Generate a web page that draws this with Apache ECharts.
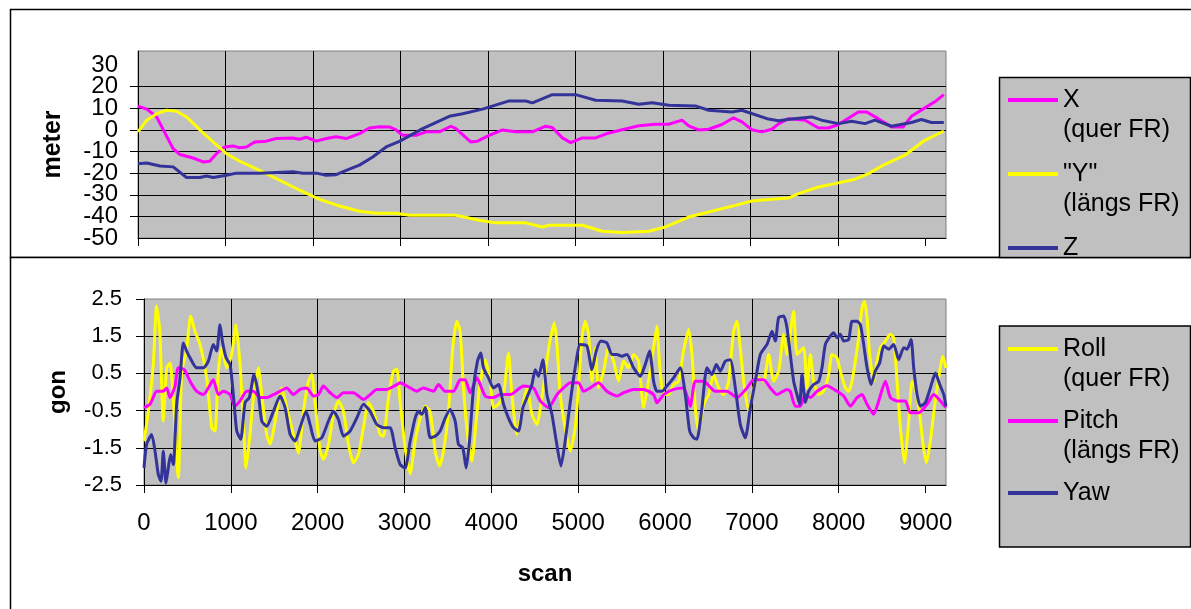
<!DOCTYPE html>
<html>
<head>
<meta charset="utf-8">
<script src="https://cdn.jsdelivr.net/npm/echarts@6/dist/echarts.min.js"></script>
<style>
  html, body { margin: 0; padding: 0; background: #fff; }
  #main { width: 1191px; height: 609px; }
</style>
</head>
<body>
<div id="main"></div>
<script>
// --- position (meter) ---
var xScan = [0,100,213,290,400,480,630,745,820,897,990,1087,1163,1240,1334,1467,1580,1771,1847,1923,2038,2152,2265,2380,2531,2645,2759,2873,2950,3025,3178,3292,3443,3577,3634,3805,3880,4014,4166,4318,4508,4660,4736,4850,4945,5078,5230,5382,5534,5724,5914,6066,6218,6294,6408,6522,6674,6807,6902,7016,7130,7244,7320,7434,7625,7777,7891,8005,8233,8329,8460,8612,8746,8840,8993,9107,9210];
var xVal = [11,9.6,6,0,-8.6,-11.4,-13,-14.8,-14.5,-11,-7.9,-7.4,-8.3,-7.9,-5.6,-5.2,-4,-3.7,-4.3,-3.4,-5.2,-4,-3.2,-4,-1.7,0.9,1.5,1.4,0,-2.5,-2.5,-0.9,-0.9,1.7,0.6,-5.6,-5.2,-2.5,0,-0.9,-0.9,1.7,1.1,-3.7,-5.9,-3.7,-3.7,-1.4,0.1,1.9,2.6,2.6,4.5,1.9,0,0.3,2.5,5.6,3.7,0.1,-0.9,0.3,2.8,5.2,4.5,0.9,0.9,2.5,8.3,8.3,5.2,1.4,1.4,6.3,10.2,13,16.3];

var yScan = [0,100,213,327,441,555,707,859,1011,1163,1391,1619,1847,2075,2303,2531,2722,2950,3101,3634,3900,4090,4432,4622,4698,5078,5306,5534,5838,6028,6294,6522,6826,7016,7244,7434,7548,7777,8005,8195,8347,8537,8765,8993,9210];
var yVal = [-0.9,4.5,7.5,9.1,8.6,6,0,-5.6,-11,-14.5,-18.7,-23.3,-27.9,-32.1,-35.2,-37.6,-38.6,-38.6,-39.5,-39.5,-41.8,-43,-43,-44.9,-44.1,-44.1,-46.9,-47.5,-46.9,-44.9,-40.3,-38,-34.9,-32.9,-32.1,-31.5,-29.5,-26.4,-24.5,-22.8,-20.2,-15.9,-11.7,-4.8,-0.5];

var zScan = [0,100,251,402,555,707,783,859,1011,1125,1391,1771,1885,2038,2152,2265,2380,2531,2683,2836,2988,3253,3558,3710,3938,4242,4432,4508,4736,5002,5230,5534,5724,5876,6066,6370,6522,6788,6902,7206,7320,7472,7700,7814,8005,8157,8309,8423,8612,8840,8954,9068,9210];
var zVal = [-15.6,-15.3,-16.7,-17.1,-22,-22,-21.3,-22,-21,-20,-20,-19.4,-20,-20,-21,-20.7,-18.7,-16.3,-12.5,-7.9,-5.3,0.6,6.3,7.5,9.6,13.4,13.4,12.5,16.3,16.3,13.7,13.4,11.9,12.6,11.4,11.1,9.1,8.3,9.1,5,4.2,5,6,4.5,2.9,4,2.9,4.5,1.7,3.4,4.8,3.4,3.4];

// --- attitude (gon) ---
var rollScan = [0,50,107,145,182,222,261,300,395,434,488,538,587,645,722,780,817,856,895,952,1010,1058,1106,1144,1175,1213,1260,1317,1356,1413,1452,1490,1548,1586,1644,1720,1778,1836,1893,1932,1970,2028,2066,2124,2182,2239,2297,2354,2412,2469,2527,2585,2642,2719,2757,2815,2872,2911,2949,3007,3065,3122,3180,3237,3295,3353,3403,3449,3506,3556,3602,3641,3679,3725,3775,3825,3863,3929,3986,4024,4082,4140,4197,4236,4294,4351,4409,4467,4524,4582,4639,4670,4724,4755,4793,4850,4908,4965,5003,5043,5081,5119,5158,5196,5234,5292,5349,5407,5464,5522,5580,5637,5695,5753,5810,5868,5906,5937,5983,6040,6098,6156,6213,6271,6310,6348,6386,6444,6501,6559,6617,6674,6732,6789,6827,6866,6905,6962,7020,7077,7135,7193,7250,7308,7366,7404,7481,7519,7596,7634,7673,7711,7769,7826,7884,7922,7979,8018,8076,8114,8153,8191,8229,8268,8295,8326,8356,8402,8441,8479,8537,8594,8633,8671,8710,8756,8806,8844,8882,8932,8971,9009,9055,9101,9151,9197,9235];
var rollVal = [-1.32,-0.52,0.74,2.31,1.63,-0.78,0.65,0.78,-2.3,0.56,1.1,2.04,1.63,1.28,0.38,-0.96,-1.05,0.56,1.19,0.65,1.01,1.81,0.74,-0.78,-2.04,-1.32,-0.15,0.65,-0.07,-1.14,-1.4,-1.05,-0.28,0.11,-0.42,-1.14,-1.64,-0.52,0.29,0.47,-0.28,-1.58,-1.81,-1.41,-0.6,-0.24,-0.52,-1.41,-1.9,-1.68,-0.96,-0.28,-0.52,-1.14,-1.19,-0.15,0.56,0.62,-0.25,-1.5,-2.2,-1.32,-0.7,-0.38,-0.52,-1.59,-1.99,-1.59,-0.52,1.19,1.9,1.63,0.11,-1.14,-1.86,-0.78,0.11,0.87,0.29,-0.42,-0.33,-0.07,1.05,-0.07,-1.14,-0.52,0.11,-0.6,-0.87,-0.15,0.83,1.32,1.86,1.28,-0.07,-0.96,-1.59,-0.96,0.11,1.46,1.9,1.55,0.29,1.19,0.11,0.56,1.19,0.83,0.29,0.83,0.65,1.01,0.83,-0.42,0.29,1.19,1.77,0.74,-0.07,-0.07,0.2,0.29,1.1,1.68,1.01,-0.42,-1.05,-0.33,-0.07,0.47,0.11,-0.07,0.29,1.63,1.9,1.19,0.29,-0.52,0.11,0.38,0.29,1.01,0.29,0.56,1.55,1.01,2.17,1.01,1.19,0.11,1.01,0.29,-0.07,0.02,0.47,1.01,0.92,0.56,0.11,0.02,0.29,0.83,1.46,2.26,2.44,1.99,1.01,0.29,0.83,1.19,1.37,1.55,1.46,0.29,-0.96,-1.9,-0.78,0.29,0.11,-0.6,-1.41,-1.9,-1.32,-0.42,0.38,0.96,0.65];

var pitchScan = [0,69,146,222,261,300,357,395,465,530,607,683,741,798,856,914,990,1048,1106,1183,1260,1336,1413,1490,1567,1644,1720,1797,1874,1951,2009,2066,2143,2220,2297,2412,2527,2604,2681,2796,2911,2949,3065,3141,3218,3333,3391,3468,3564,3641,3698,3756,3833,3929,4024,4101,4217,4370,4485,4562,4658,4755,4831,4908,5003,5061,5138,5234,5330,5446,5522,5637,5753,5868,5906,5983,6098,6213,6290,6348,6444,6578,6713,6828,6943,7020,7135,7212,7289,7404,7442,7500,7558,7615,7673,7750,7865,7980,8057,8134,8211,8268,8326,8402,8460,8537,8594,8671,8767,8825,8921,9017,9094,9171,9235];
var pitchVal = [-0.42,-0.33,0.02,0.02,0.11,-0.15,0.16,0.65,0.6,0.29,0.02,-0.07,0.11,0.33,-0.07,0.02,-0.07,-0.38,-0.24,0.02,0.02,-0.15,-0.15,-0.07,0.02,0.11,-0.07,0.07,0.11,-0.11,-0.07,0.16,-0.02,-0.15,-0.02,-0.02,-0.2,-0.07,0.07,0.07,0.2,0.25,0.11,0.02,0.11,0.02,0.2,0.02,0.02,0.33,0.33,-0.02,0.38,-0.11,-0.15,-0.07,-0.07,0.16,0.11,-0.24,-0.42,-0.07,0.11,0.25,0.25,0.02,0.11,0.25,0.02,-0.11,-0.02,0.07,0.07,-0.07,-0.29,-0.07,0.07,0.11,-0.38,0.29,0.29,0.02,0.02,-0.15,0.11,0.33,0.33,0.11,-0.07,0.07,0.02,-0.38,-0.38,-0.07,-0.15,0.02,0.17,0.02,-0.11,-0.38,-0.15,-0.07,-0.33,-0.6,-0.24,0.29,-0.15,-0.24,-0.24,-0.56,-0.56,-0.33,-0.07,-0.24,-0.42];

var yawScan = [0,30,88,127,165,196,222,253,280,307,338,376,415,453,491,530,607,683,741,798,837,875,902,945,991,1029,1068,1114,1164,1213,1267,1317,1356,1413,1490,1567,1625,1682,1740,1797,1866,1912,1970,2047,2124,2182,2239,2297,2373,2450,2527,2604,2681,2757,2834,2892,2949,3007,3065,3122,3160,3199,3237,3295,3353,3410,3468,3525,3583,3621,3671,3710,3748,3794,3840,3879,3909,3967,4024,4082,4140,4197,4255,4312,4363,4409,4467,4505,4543,4593,4639,4697,4747,4801,4850,4908,4965,5023,5100,5158,5207,5261,5330,5388,5446,5503,5561,5637,5714,5772,5822,5868,5906,5963,6021,6098,6175,6233,6283,6329,6367,6425,6482,6540,6590,6636,6694,6751,6809,6866,6924,6982,7039,7097,7174,7232,7270,7308,7366,7404,7442,7481,7519,7550,7577,7615,7654,7711,7769,7807,7846,7903,7941,7980,8018,8057,8114,8153,8211,8249,8287,8326,8372,8421,8471,8518,8575,8633,8690,8748,8787,8833,8863,8902,8940,8998,9055,9113,9163,9209,9235];
var yawVal = [-2.04,-1.41,-1.14,-1.59,-2.22,-2.4,-1.59,-2.45,-2.04,-1.68,-1.95,-0.33,0.38,1.32,1.1,0.92,0.65,0.65,0.83,1.28,1.1,1.81,1.37,0.92,0.74,-0.07,-1.05,-1.27,-0.28,-0.15,0.47,-0.07,-0.78,-0.92,-0.52,-0.11,-0.42,-1.14,-1.32,-0.96,-0.52,-0.87,-1.32,-1.23,-0.78,-0.52,-0.74,-1.19,-1.05,-0.7,-0.33,-0.52,-0.87,-0.96,-0.96,-1.5,-1.95,-2.04,-1.32,-0.7,-0.52,-0.6,-0.42,-1.23,-1.19,-1.05,-0.7,-0.47,-0.78,-1.41,-1.5,-2.04,-1.32,0.11,0.83,1.05,0.65,0.38,0.11,0.2,-0.33,-0.7,-0.96,-1.05,-0.42,-0.15,0.2,0.6,0.42,0.87,-0.07,-0.6,-1.32,-1.99,-1.32,-0.28,0.65,1.28,1.24,0.6,1.1,1.37,1.32,1.01,1.01,0.96,1.01,0.65,0.42,0.74,1.1,0.29,0.02,0.02,0.16,0.38,0.65,-0.07,-1.05,-1.23,-1.27,-0.42,0.65,0.47,0.74,0.56,0.83,0.87,0.11,-0.87,-1.23,-0.42,0.29,1.01,1.28,1.63,1.37,2.0,2.04,1.73,1.01,0.29,-0.07,-0.33,0.47,-0.28,0.02,0.2,0.29,0.65,1.28,1.5,1.59,1.46,1.55,1.37,1.41,1.9,1.9,1.81,1.28,0.65,0.2,0.56,0.78,1.24,1.15,1.28,0.87,1.19,1.15,1.41,0.65,-0.07,-0.38,-0.28,0.11,0.51,0.2,-0.07,-0.38];

var scanTicks = [0,1000,2000,3000,4000,5000,6000,7000,8000,9000];
var meterTicks = [-50,-40,-30,-20,-10,0,10,20,30];
// end values repeated: the outer copies get dropped by showMin/MaxLabel:false,
// so the labels next to -50 and 30 are not hidden as "overlapping"
var meterLabels = [-50,-50,-40,-30,-20,-10,0,10,20,30,30];
var gonTicks = [-2.5,-1.5,-0.5,0.5,1.5,2.5];

// legend texts: a blank first line keeps the series name level with its line swatch
var legendNames = {
  'X': '\nX\n(quer FR)',
  '"Y"': '\n"Y"\n(längs FR)',
  'Z': '\nZ\n ',
  'Roll': '\nRoll\n(quer FR)',
  'Pitch': '\nPitch\n(längs FR)',
  'Yaw': '\nYaw\n '
};

var FONT = '"Liberation Sans", Arial, sans-serif';
var SCAN_MAX = 9235;

function pairs(s, v) {
  return s.map(function (t, i) { return [t, v[i]]; });
}

function scanAxis(idx, showLabels) {
  return {
    gridIndex: idx,
    type: 'value',
    min: 0,
    max: SCAN_MAX,
    interval: 1000,
    name: showLabels ? 'scan' : '',
    nameLocation: 'middle',
    nameGap: 77,
    nameTextStyle: { fontFamily: FONT, fontSize: 24, fontWeight: 'bold', color: '#000' },
    axisLine: { onZero: false, lineStyle: { color: '#000', width: 1 } },
    axisTick: { show: true, length: 8, customValues: scanTicks, lineStyle: { color: '#000' } },
    axisLabel: {
      show: showLabels, customValues: scanTicks, margin: 26, hideOverlap: false,
      fontFamily: FONT, fontSize: 24, color: '#000',
      formatter: function (v) { return v % 1000 === 0 ? String(v) : ''; }
    },
    splitLine: { show: true, showMinLine: false, showMaxLine: false,
      lineStyle: { color: '#000', width: 1 } }
  };
}

function lineSeries(name, color, s, v, idx, smooth) {
  return {
    name: name,
    type: 'line',
    xAxisIndex: idx,
    yAxisIndex: idx,
    data: pairs(s, v),
    symbol: 'none',
    smooth: smooth,
    color: color,
    lineStyle: { color: color, width: 3 },
    z: 3
  };
}

var chart = echarts.init(document.getElementById('main'));

var legendBase = {
  orient: 'vertical',
  left: 1008,
  padding: 0,
  itemWidth: 50,
  itemHeight: 4,
  itemGap: -16,
  icon: 'rect',
  selectedMode: false,
  textStyle: { fontFamily: FONT, fontSize: 25, lineHeight: 30, color: '#000' },
  formatter: function (n) { return legendNames[n]; }
};

var option = {
  animation: false,
  backgroundColor: '#fff',
  textStyle: { fontFamily: FONT },
  graphic: [
    { type: 'rect', z: -10, shape: { x: 10.5, y: 9.5, width: 1200, height: 248 },
      style: { fill: '#fff', stroke: '#000', lineWidth: 1.5 } },
    { type: 'rect', z: -9, shape: { x: 10.5, y: 257.5, width: 1200, height: 400 },
      style: { fill: '#fff', stroke: '#000', lineWidth: 1.5 } },
    { type: 'rect', z: -5, shape: { x: 999.5, y: 77.5, width: 191, height: 180 },
      style: { fill: '#C0C0C0', stroke: '#000', lineWidth: 1.5 } },
    { type: 'rect', z: -5, shape: { x: 999.5, y: 326, width: 191, height: 221 },
      style: { fill: '#C0C0C0', stroke: '#000', lineWidth: 1.5 } }
  ],
  grid: [
    { left: 138, top: 51, width: 808, height: 187, show: true,
      backgroundColor: '#C0C0C0', borderColor: '#808080', borderWidth: 1 },
    { left: 144, top: 299, width: 802, height: 186, show: true,
      backgroundColor: '#C0C0C0', borderColor: '#808080', borderWidth: 1 }
  ],
  xAxis: [scanAxis(0, false), scanAxis(1, true)],
  yAxis: [
    {
      gridIndex: 0, type: 'value', min: -50, max: 36.5, interval: 10,
      name: 'meter', nameLocation: 'middle', nameRotate: 90, nameGap: 72,
      nameTextStyle: { fontFamily: FONT, fontSize: 25, fontWeight: 'bold', color: '#000' },
      axisLine: { show: true, lineStyle: { color: '#000' } },
      axisTick: { show: true, length: 8, customValues: meterTicks, lineStyle: { color: '#000' } },
      axisLabel: {
        customValues: meterLabels, showMinLabel: false, showMaxLabel: false, hideOverlap: false,
        margin: 20, fontFamily: FONT, fontSize: 24, color: '#000',
        formatter: function (v) { return v % 10 === 0 ? String(v) : ''; }
      },
      splitLine: { show: true, showMinLine: false, showMaxLine: false,
        lineStyle: { color: '#000', width: 1 } }
    },
    {
      gridIndex: 1, type: 'value', min: -2.5, max: 2.5, interval: 1,
      name: 'gon', nameLocation: 'middle', nameRotate: 90, nameGap: 74,
      nameTextStyle: { fontFamily: FONT, fontSize: 24, fontWeight: 'bold', color: '#000' },
      axisLine: { show: true, lineStyle: { color: '#000' } },
      axisTick: { show: true, length: 8, lineStyle: { color: '#000' } },
      axisLabel: { customValues: gonTicks, showMinLabel: true, showMaxLabel: true, hideOverlap: false,
        margin: 22, fontFamily: FONT, fontSize: 22, color: '#000',
        formatter: function (v) { return v.toFixed(1); } },
      splitLine: { show: true, showMinLine: false, showMaxLine: false,
        lineStyle: { color: '#000', width: 1 } }
    }
  ],
  legend: [
    Object.assign({}, legendBase, {
      top: 55,
      data: ['X', '"Y"', 'Z']
    }),
    Object.assign({}, legendBase, {
      top: 304,
      itemGap: -18,
      data: ['Roll', 'Pitch', 'Yaw']
    })
  ],
  series: [
    lineSeries('X', '#FF00FF', xScan, xVal, 0, false),
    lineSeries('"Y"', '#FFFF00', yScan, yVal, 0, false),
    lineSeries('Z', '#333399', zScan, zVal, 0, false),
    lineSeries('Roll', '#FFFF00', rollScan, rollVal, 1, 0.2),
    lineSeries('Pitch', '#FF00FF', pitchScan, pitchVal, 1, 0.2),
    lineSeries('Yaw', '#333399', yawScan, yawVal, 1, 0.2)
  ]
};

chart.setOption(option);
</script>
</body>
</html>
